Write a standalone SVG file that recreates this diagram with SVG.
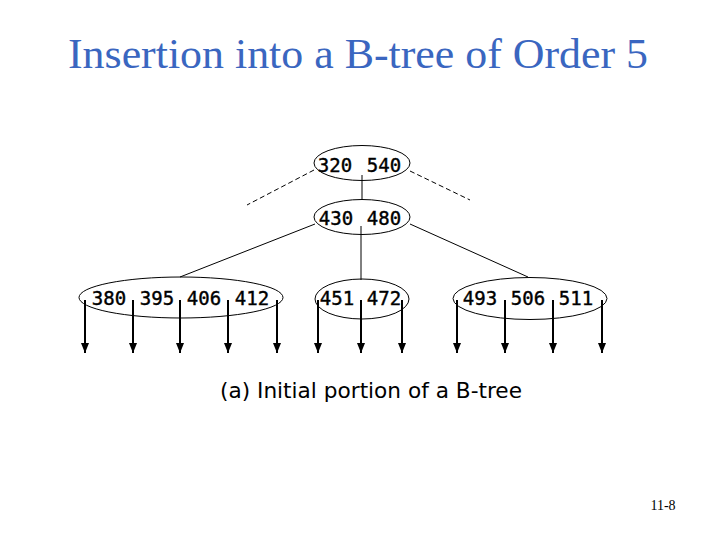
<svg xmlns="http://www.w3.org/2000/svg" width="720" height="540" viewBox="0 0 720 540">
<defs>
<marker id="ah" markerWidth="12" markerHeight="10" refX="10" refY="5" orient="auto" markerUnits="userSpaceOnUse" viewBox="0 0 12 10">
<path d="M0,1 L10,5 L0,9 Z" fill="#000"/>
</marker>
</defs>
<style>
.node ellipse{fill:none;stroke:#000;stroke-width:1}
.key{font-family:"DejaVu Sans Mono","Liberation Mono",monospace;font-size:19px;fill:#000;stroke:#000;stroke-width:0.4;text-anchor:middle}
.edge{stroke:#000;stroke-width:1;fill:none}
.dash{stroke:#000;stroke-width:1;stroke-dasharray:5,3;fill:none}
.ptr{stroke:#000;stroke-width:2;fill:none}
</style>
<rect width="720" height="540" fill="#fff"/>
<text x="358" y="68" font-family="'Liberation Serif','Times New Roman',serif" font-size="42" fill="#3A66C0" text-anchor="middle" textLength="580" lengthAdjust="spacingAndGlyphs">Insertion into a B-tree of Order 5</text>
<g id="connectors">
<line class="dash" x1="314" y1="170" x2="247" y2="205"/>
<line class="dash" x1="410" y1="171" x2="470" y2="200"/>
<line class="edge" x1="362" y1="175" x2="362" y2="200"/>
<line class="edge" x1="315" y1="224" x2="180" y2="277"/>
<line class="edge" x1="361" y1="226" x2="361" y2="280"/>
<line class="edge" x1="410" y1="224" x2="528" y2="277"/>
<line class="ptr" x1="85" y1="300" x2="85" y2="353" marker-end="url(#ah)"/>
<line class="ptr" x1="133" y1="300" x2="133" y2="353" marker-end="url(#ah)"/>
<line class="ptr" x1="180" y1="300" x2="180" y2="353" marker-end="url(#ah)"/>
<line class="ptr" x1="228" y1="300" x2="228" y2="353" marker-end="url(#ah)"/>
<line class="ptr" x1="277" y1="300" x2="277" y2="353" marker-end="url(#ah)"/>
<line class="ptr" x1="318" y1="300" x2="318" y2="353" marker-end="url(#ah)"/>
<line class="ptr" x1="361" y1="300" x2="361" y2="353" marker-end="url(#ah)"/>
<line class="ptr" x1="402" y1="300" x2="402" y2="353" marker-end="url(#ah)"/>
<line class="ptr" x1="457" y1="300" x2="457" y2="353" marker-end="url(#ah)"/>
<line class="ptr" x1="505" y1="300" x2="505" y2="353" marker-end="url(#ah)"/>
<line class="ptr" x1="553" y1="300" x2="553" y2="353" marker-end="url(#ah)"/>
<line class="ptr" x1="602" y1="300" x2="602" y2="353" marker-end="url(#ah)"/>
</g>
<g id="n320" class="node">
<ellipse cx="362" cy="163" rx="48" ry="17.5"/>
<text class="key" x="335" y="172">320</text>
<text class="key" x="384" y="172">540</text>
</g>
<g id="n430" class="node">
<ellipse cx="362" cy="217" rx="48" ry="17.5"/>
<text class="key" x="336" y="225">430</text>
<text class="key" x="384" y="225">480</text>
</g>
<g id="n380" class="node">
<ellipse cx="181" cy="297.5" rx="102" ry="20.5"/>
<text class="key" x="109" y="305">380</text>
<text class="key" x="157" y="305">395</text>
<text class="key" x="204" y="305">406</text>
<text class="key" x="252" y="305">412</text>
</g>
<g id="n451" class="node">
<ellipse cx="362" cy="299" rx="47" ry="20"/>
<text class="key" x="337" y="305">451</text>
<text class="key" x="384" y="305">472</text>
</g>
<g id="n493" class="node">
<ellipse cx="530" cy="298.5" rx="77" ry="21"/>
<text class="key" x="480" y="305">493</text>
<text class="key" x="528" y="305">506</text>
<text class="key" x="576" y="305">511</text>
</g>
<text x="220" y="398" font-family="'DejaVu Sans',Verdana,sans-serif" font-size="21" fill="#000" textLength="302" lengthAdjust="spacingAndGlyphs">(a) Initial portion of a B-tree</text>
<text x="663" y="510" font-family="'Liberation Serif','Times New Roman',serif" font-size="14" fill="#000" text-anchor="middle">11-8</text>
</svg>
